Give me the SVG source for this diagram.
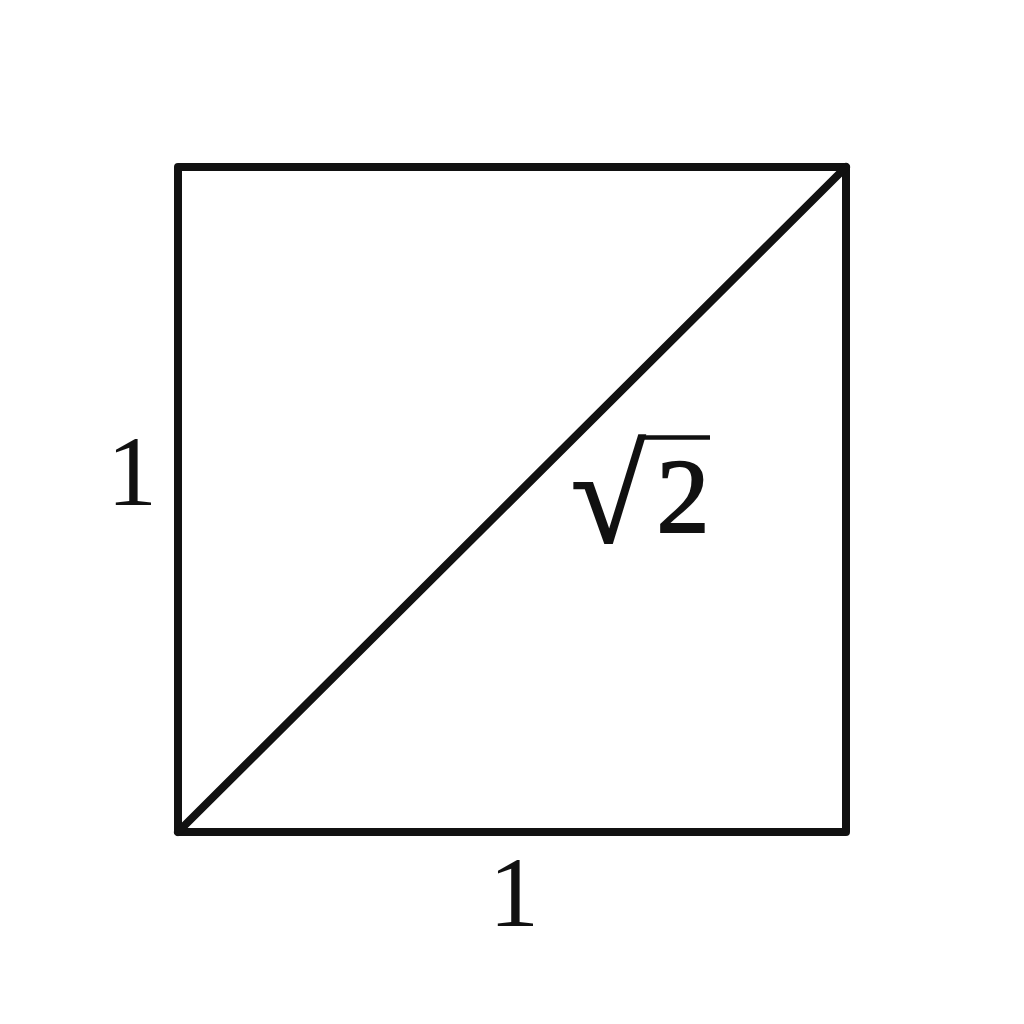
<svg xmlns="http://www.w3.org/2000/svg" width="1024" height="1024" viewBox="0 0 1024 1024">
<style>
.edge{stroke:#111;stroke-width:8;stroke-linecap:round;stroke-linejoin:round;fill:none}
.lbl{font-family:"Liberation Serif","DejaVu Serif",serif;fill:#111}
</style>
<rect width="1024" height="1024" fill="#fff"/>
<g id="connectors">
<rect id="square" class="edge" x="178" y="167" width="668" height="665"/>
<line id="diagonal" class="edge" x1="178" y1="832" x2="846" y2="167"/>
</g>
<g id="label-left"><text class="lbl" x="132" y="505" font-size="100" text-anchor="middle">1</text></g>
<g id="label-bottom"><text class="lbl" x="514" y="926" font-size="100" text-anchor="middle">1</text></g>
<g id="label-diagonal">
<text class="lbl" x="571" y="542" font-size="135" stroke="#111" stroke-width="2">√</text>
<line x1="642" y1="437.5" x2="710" y2="437.5" stroke="#111" stroke-width="4.5"/>
<text class="lbl" x="683" y="532" font-size="106" stroke="#111" stroke-width="2" text-anchor="middle">2</text>
</g>
</svg>
